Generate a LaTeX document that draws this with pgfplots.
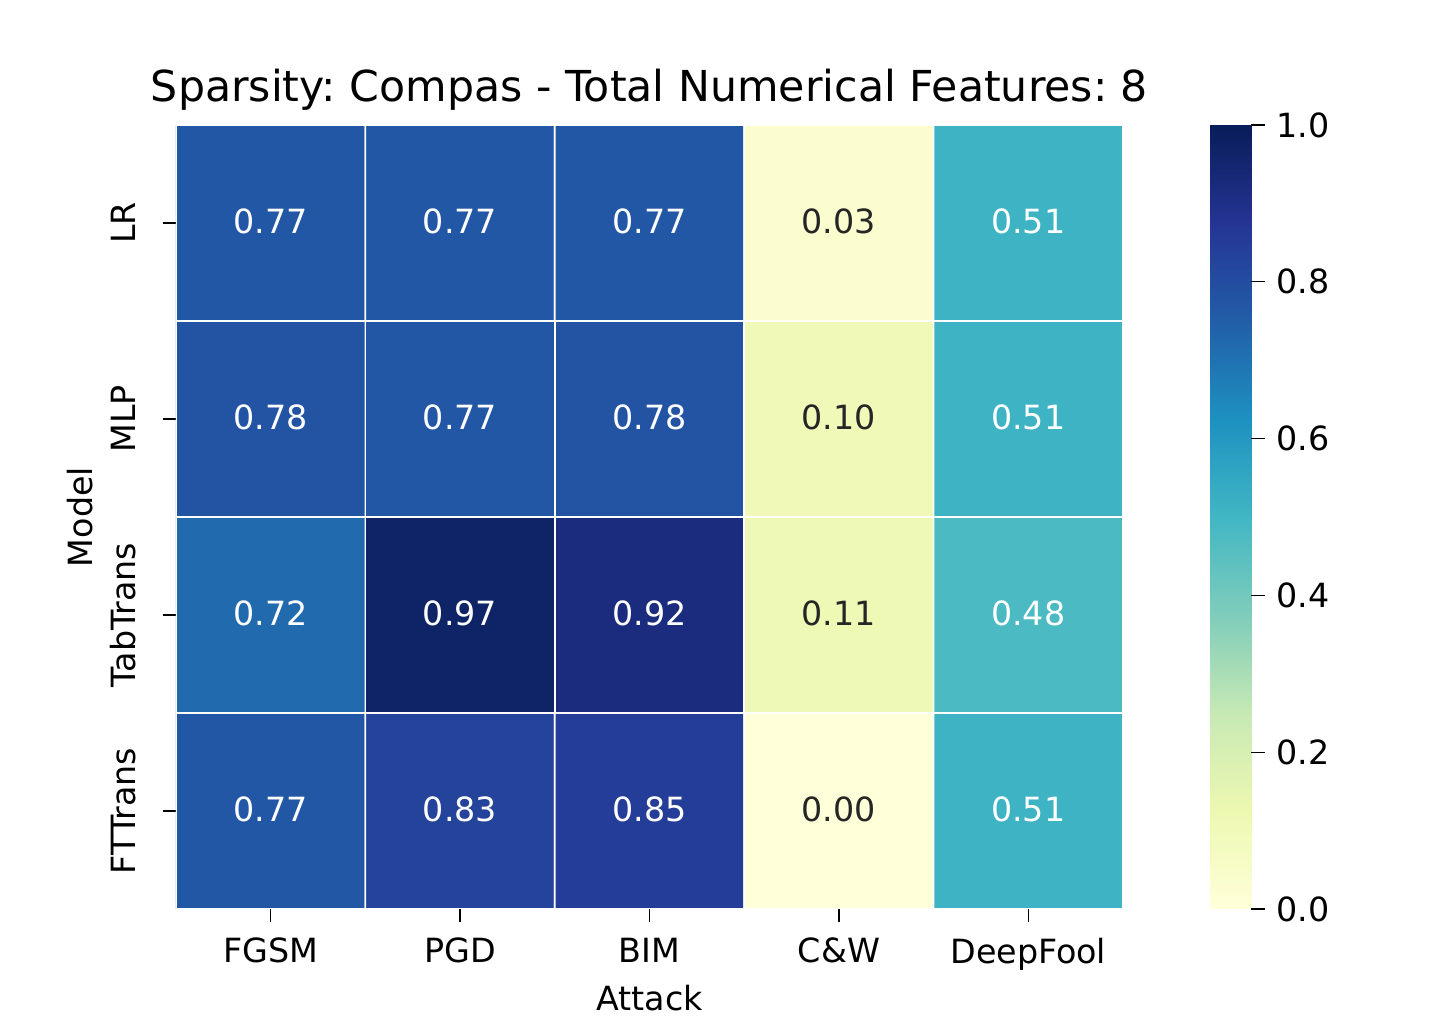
\documentclass[border=0pt]{standalone}
\usepackage{pgfplots}
\pgfplotsset{compat=1.18}
\usepackage{fontspec}
\setmainfont{DejaVu Sans}
\definecolor{darktext}{HTML}{262626}
\frenchspacing
\begin{document}
\begin{tikzpicture}
\path[use as bounding box] (-52.8pt,-33.9pt) rectangle (377.7pt,272.7pt);
\begin{axis}[
  at={(0,0)}, anchor=south west,
  scale only axis,
  width=284.1pt, height=235.2pt,
  xmin=-0.5, xmax=4.5, ymin=-0.5, ymax=3.5,
  y dir=reverse,
  font=\fontsize{10}{12}\selectfont,
  /pgf/number format/assume math mode=true,
  xtick={0,1,2,3,4},
  xticklabels={FGSM,PGD,BIM,C\&W,DeepFool},
  ytick={0,1,2,3},
  yticklabels={LR,MLP,TabTrans,FTTrans},
  xticklabel style={yshift=-1.1pt},
  yticklabel style={xshift=-4.6pt, rotate=90, anchor=south},
  xtick pos=bottom, ytick pos=left,
  tick align=outside,
  major tick length=4pt,
  tick style={black, line width=0.4pt},
  axis line style={draw=none},
  xlabel={Attack}, ylabel={Model},
  xlabel style={at={(axis description cs:0.5,-0.1301)}, anchor=base},
  ylabel style={at={(axis description cs:-0.0887,0.5)}, rotate=0, anchor=base},
  title={Sparsity: Compas - Total Numerical Features: 8},
  title style={at={(axis description cs:0.5,1)}, anchor=base, yshift=0.9pt, font=\fontsize{12.8}{15}\selectfont},
  colormap={ylgnbu}{rgb255=(255,255,217) rgb255=(237,248,177) rgb255=(199,233,180) rgb255=(127,205,187) rgb255=(65,182,196) rgb255=(29,145,192) rgb255=(34,94,168) rgb255=(37,52,148) rgb255=(8,29,88)},
  point meta min=0, point meta max=1,
  colorbar,
  colorbar style={
    at={(parent axis.north east)}, anchor=north west, xshift=17.7pt,
    scale only axis,
    width=12.3pt,
    ytick={0,0.2,0.4,0.6,0.8,1.0},
    yticklabel={\pgfmathprintnumber[fixed,precision=1,zerofill]{\tick}},
    /pgf/number format/assume math mode=true,
    axis line style={draw=none},
    tick align=outside,
    major tick length=4pt,
    tick style={black, line width=0.4pt},
    ytick pos=right,
    font=\fontsize{10}{12}\selectfont,
  },
]
\addplot[matrix plot*, mesh/cols=5, point meta=explicit, draw=white, line width=0.5pt] table[meta=c] {
x y c
0 0 0.77
1 0 0.77
2 0 0.77
3 0 0.03
4 0 0.51
0 1 0.78
1 1 0.77
2 1 0.78
3 1 0.10
4 1 0.51
0 2 0.72
1 2 0.97
2 2 0.92
3 2 0.11
4 2 0.48
0 3 0.77
1 3 0.83
2 3 0.85
3 3 0.00
4 3 0.51
};
\addplot[only marks, mark=none, point meta=explicit symbolic,
  nodes near coords={\pgfplotspointmeta},
  nodes near coords style={anchor=center, yshift=0.4pt, text=white, font=\fontsize{10}{12}\selectfont}] table[meta=t] {
x y t
0 0 0.77
1 0 0.77
2 0 0.77
4 0 0.51
0 1 0.78
1 1 0.77
2 1 0.78
4 1 0.51
0 2 0.72
1 2 0.97
2 2 0.92
4 2 0.48
0 3 0.77
1 3 0.83
2 3 0.85
4 3 0.51
};
\addplot[only marks, mark=none, point meta=explicit symbolic,
  nodes near coords={\pgfplotspointmeta},
  nodes near coords style={anchor=center, yshift=0.4pt, text=darktext, font=\fontsize{10}{12}\selectfont}] table[meta=t] {
x y t
3 0 0.03
3 1 0.10
3 2 0.11
3 3 0.00
};
\end{axis}
\end{tikzpicture}
\end{document}
